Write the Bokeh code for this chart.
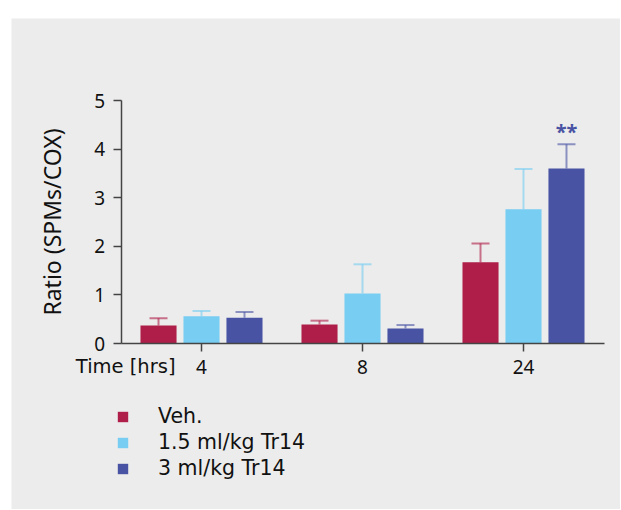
from bokeh.plotting import figure
from bokeh.models import (ColumnDataSource, Whisker, TeeHead, Legend,
                          LegendItem, Label, Range1d, FixedTicker)
from bokeh.transform import dodge
from bokeh.core.properties import value
from bokeh.embed import file_html
from bokeh.resources import INLINE

# ---- data ----
times = ["4", "8", "24"]
series = ["Veh.", "1.5 ml/kg Tr14", "3 ml/kg Tr14"]
veh = [0.37, 0.39, 1.67]
veh_err = [0.52, 0.47, 2.06]
tr15 = [0.56, 1.03, 2.76]
tr15_err = [0.67, 1.63, 3.59]
tr3 = [0.53, 0.31, 3.60]
tr3_err = [0.65, 0.38, 4.10]
signif = ["", "", "**"]
y_ticks = [0, 1, 2, 3, 4, 5]
colors = ["#ae1e48", "#77cdf2", "#4953a3"]
offsets = [-0.267, 0.0, 0.267]

FONT = "Noto Sans"
FONT2 = "DejaVu Sans"
BG = "#ececec"
W, H = 609, 491

idx = list(range(len(times)))
src = ColumnDataSource(dict(x=idx, veh=veh, veh_err=veh_err, tr15=tr15,
                            tr15_err=tr15_err, tr3=tr3, tr3_err=tr3_err, sig=signif))

# frame covers whole figure; axes pinned with fixed_location
px_x = 161.0   # pixels per group
px_y = 48.6    # pixels per unit
x0_px, y0_px = 190.0, 325.0   # position of first group / zero line inside figure
x_range = Range1d(-x0_px / px_x, (W - x0_px) / px_x)
y_range = Range1d(-(H - y0_px) / px_y, y0_px / px_y)

p = figure(x_range=x_range, y_range=y_range, width=W, height=H,
           output_backend="svg", toolbar_location=None, min_border=0,
           background_fill_color=BG, border_fill_color=BG, outline_line_color=None)
p.margin = (18, 0, 0, 11)

renderers = []
for key, col, off in zip(["veh", "tr15", "tr3"], colors, offsets):
    r = p.vbar(x=dodge("x", off), top=key, width=0.224,
               source=src, fill_color=col, line_color=None)
    renderers.append(r)
    w = Whisker(base=dodge("x", off), lower=key, upper=key + "_err",
                source=src, line_color=col, line_alpha=0.6, line_width=2,
                upper_head=TeeHead(size=18, line_color=col, line_alpha=0.6, line_width=2),
                lower_head=None)
    p.add_layout(w)

p.text(x=dodge("x", 0.267), y="tr3_err", text="sig", source=src,
       text_align="center", text_baseline="bottom", y_offset=1,
       text_font=value(FONT), text_font_size="20px", text_font_style="bold",
       text_color=colors[2])

p.xgrid.visible = False
p.ygrid.visible = False

xa, ya = p.xaxis[0], p.yaxis[0]
xa.fixed_location = 0
xa.bounds = (-0.5, len(times) - 0.5)
xa.ticker = FixedTicker(ticks=idx)
xa.major_label_overrides = {i: t for i, t in zip(idx, times)}
ya.fixed_location = -0.5
ya.bounds = (y_ticks[0], y_ticks[-1])
ya.ticker = FixedTicker(ticks=y_ticks)

for ax in (xa, ya):
    ax.axis_line_color = "#444444"
    ax.axis_line_width = 1.5
    ax.major_tick_line_color = "#444444"
    ax.major_tick_line_width = 1.5
    ax.major_tick_in = 0
    ax.major_tick_out = 8
    ax.minor_tick_line_color = None
    ax.major_label_text_font = FONT
    ax.major_label_text_font_size = "19px"
    ax.major_label_text_color = "#111111"
    ax.major_label_standoff = 8

ya.axis_label = "Ratio (SPMs/COX)"
ya.axis_label_text_font = FONT
ya.axis_label_text_font_size = "23px"
ya.axis_label_text_font_style = "normal"
ya.axis_label_text_color = "#111111"
ya.axis_label_standoff = 24

p.add_layout(Label(x=164, y=143, x_units="screen", y_units="screen",
                   text="Time [hrs]", text_align="right", text_baseline="alphabetic",
                   text_font=FONT2, text_font_size="19.5px", text_color="#111111"))

legend = Legend(items=[LegendItem(label=s, renderers=[r]) for s, r in zip(series, renderers)],
                location=(105, 29), glyph_width=13, glyph_height=13, label_standoff=29,
                label_text_font=FONT2, label_text_font_size="20.5px", label_text_color="#111111",
                label_height=22, spacing=2, padding=0, margin=0,
                border_line_color=None, background_fill_alpha=0)
p.add_layout(legend, "center")

open("out.html", "w").write(file_html(p, INLINE))
